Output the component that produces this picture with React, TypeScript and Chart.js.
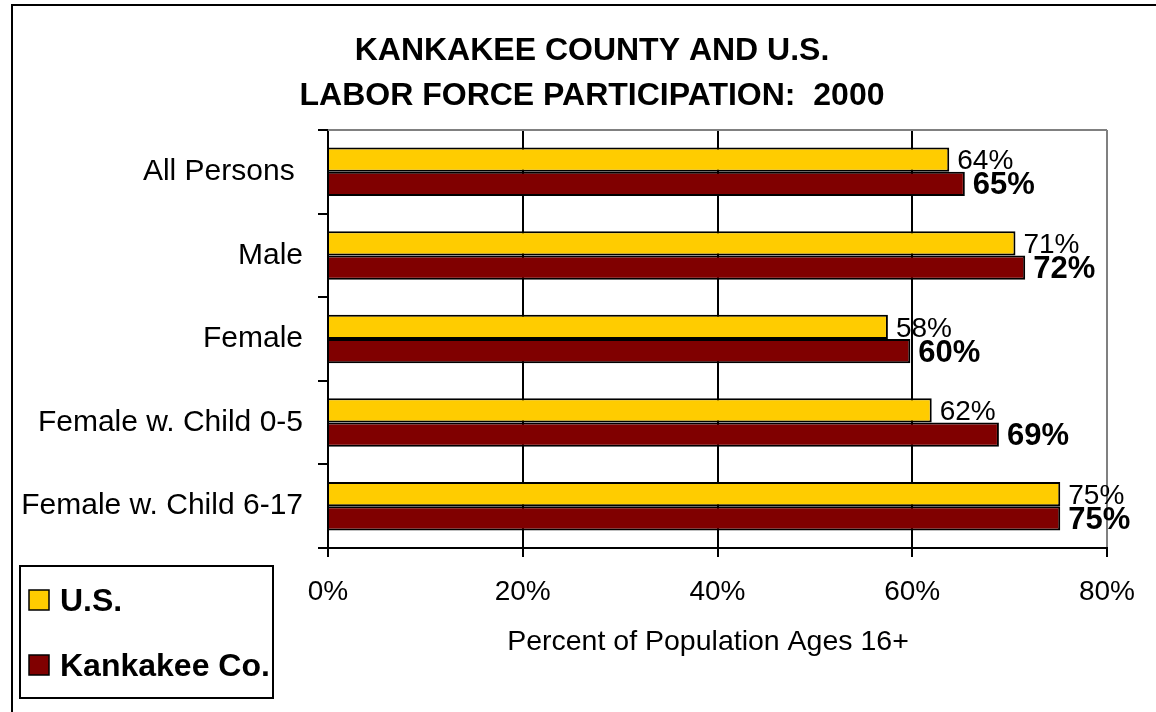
import React, { useEffect, useRef } from "react";
import { Chart, registerables } from "chart.js";

Chart.register(...registerables);

const titleLines = ["KANKAKEE COUNTY AND U.S.", "LABOR FORCE PARTICIPATION:  2000"];
const categories = ["All Persons ", "Male", "Female", "Female w. Child 0-5", "Female w. Child 6-17"];
const seriesNames = ["U.S.", "Kankakee Co."];
const usValues = [63.8, 70.6, 57.5, 62.0, 75.2];
const kankakeeValues = [65.4, 71.6, 59.8, 68.9, 75.2];
const xTickValues = [0, 20, 40, 60, 80];
const xAxisTitle = "Percent of Population Ages 16+";
const seriesColors = ["#FFCC00", "#800000"];

const FONT = "'Liberation Sans', Arial, sans-serif";

const decorPlugin = {
  id: "decor",
  beforeDraw(chart: any) {
    const ctx = chart.ctx;
    ctx.save();
    ctx.fillStyle = "#fff";
    ctx.fillRect(0, 0, chart.width, chart.height);
    ctx.strokeStyle = "#000";
    ctx.lineWidth = 2;
    ctx.strokeRect(12, 5, 1160, 730);
    ctx.restore();
  },
  beforeDatasetsDraw(chart: any) {
    const { ctx, chartArea } = chart;
    ctx.save();
    ctx.strokeStyle = "#808080";
    ctx.lineWidth = 2;
    ctx.beginPath();
    ctx.moveTo(chartArea.left, chartArea.top);
    ctx.lineTo(chartArea.right, chartArea.top);
    ctx.stroke();
    ctx.restore();
  },
  afterDraw(chart: any) {
    const { ctx } = chart;
    ctx.save();
    ctx.fillStyle = "#000";
    ctx.textAlign = "center";
    ctx.textBaseline = "middle";
    ctx.font = `bold 32px ${FONT}`;
    ctx.fillText(titleLines[0], 592, 51);
    ctx.fillText(titleLines[1], 592, 96);
    ctx.font = `28.5px ${FONT}`;
    ctx.fillText(xAxisTitle, 708, 642);
    ctx.textAlign = "left";
    chart.data.datasets.forEach((ds: any, di: number) => {
      const meta = chart.getDatasetMeta(di);
      ctx.font = di === 0 ? `28px ${FONT}` : `bold 31px ${FONT}`;
      meta.data.forEach((el: any, i: number) => {
        const v = ds.data[i];
        ctx.fillText(Math.round(v) + "%", el.x + 8, el.y + 2);
      });
    });
    ctx.strokeStyle = "#000";
    ctx.lineWidth = 2;
    ctx.strokeRect(20, 566, 253, 132);
    const ys = [600, 665];
    chart.data.datasets.forEach((ds: any, di: number) => {
      ctx.fillStyle = ds.backgroundColor;
      ctx.fillRect(29, ys[di] - 10, 20, 20);
      ctx.lineWidth = 1.5;
      ctx.strokeRect(29, ys[di] - 10, 20, 20);
      ctx.fillStyle = "#000";
      ctx.font = `bold 32px ${FONT}`;
      ctx.textBaseline = "middle";
      ctx.fillText(ds.label, 60, ys[di] + 2);
    });
    ctx.restore();
  },
};

export default function App() {
  const ref = useRef<HTMLCanvasElement>(null);
  useEffect(() => {
    if (!ref.current) return;
    const chart = new Chart(ref.current, {
      type: "bar",
      data: {
        labels: categories,
        datasets: [
          {
            label: seriesNames[0],
            data: usValues,
            backgroundColor: seriesColors[0],
            borderColor: "#000",
            borderWidth: 2,
            categoryPercentage: 0.58,
            barPercentage: 1,
          },
          {
            label: seriesNames[1],
            data: kankakeeValues,
            backgroundColor: seriesColors[1],
            borderColor: "#000",
            borderWidth: 2,
            categoryPercentage: 0.58,
            barPercentage: 1,
          },
        ],
      },
      options: {
        indexAxis: "y",
        responsive: false,
        animation: false,
        layout: { padding: { top: 130, right: 49, left: 0, bottom: 0 } },
        plugins: {
          legend: { display: false },
          title: { display: false },
          tooltip: { enabled: false },
        },
        scales: {
          x: {
            min: 0,
            max: 80,
            afterFit: (scale: any) => {
              scale.height = 164;
            },
            afterBuildTicks: (scale: any) => {
              scale.ticks = xTickValues.map((v) => ({ value: v }));
            },
            ticks: {
              callback: (v: any) => v + "%",
              color: "#000",
              padding: 18,
              font: { family: FONT, size: 28 },
            },
            grid: {
              color: (c: any) => (c.tick && c.tick.value === 80 ? "#808080" : "#000"),
              lineWidth: 2,
              tickLength: 9,
              tickColor: "#000",
              drawTicks: true,
            },
            border: { color: "#000", width: 2 },
          },
          y: {
            afterFit: (scale: any) => {
              scale.width = 328;
            },
            ticks: {
              color: "#000",
              padding: 15,
              font: { family: FONT, size: 30 },
            },
            grid: {
              offset: true,
              drawOnChartArea: false,
              drawTicks: true,
              tickLength: 10,
              color: "#000",
              lineWidth: 2,
            },
            border: { color: "#000", width: 2 },
          },
        },
      },
      plugins: [decorPlugin],
    } as any);
    return () => chart.destroy();
  }, []);
  return (
    <div style={{ position: "absolute", left: 0, top: 0, width: 1156, height: 712 }}>
      <canvas ref={ref} width={1156} height={712} />
    </div>
  );
}
